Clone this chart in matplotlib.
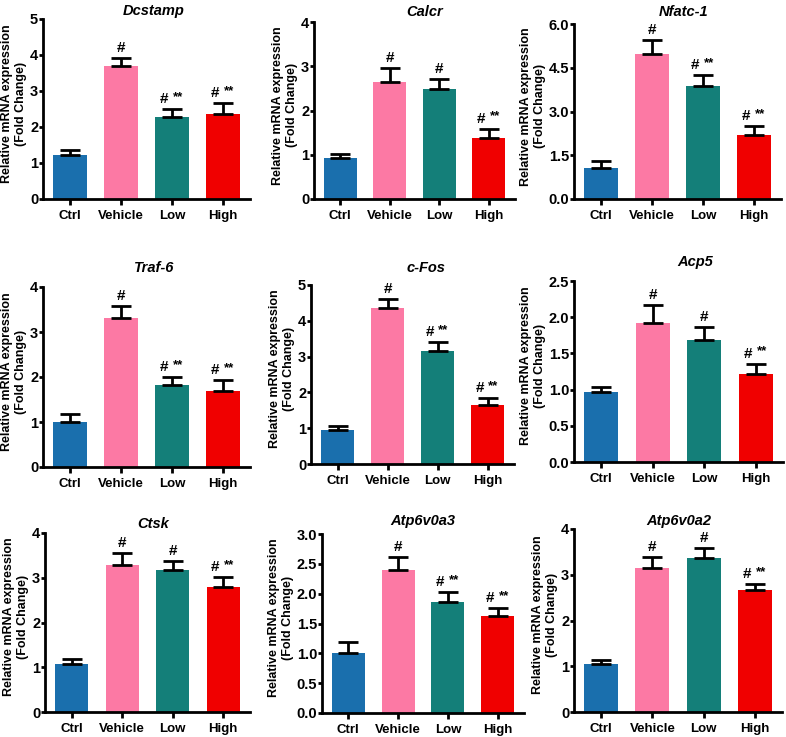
import numpy as np
import matplotlib.pyplot as plt

plt.rcParams['font.family'] = ['Liberation Sans', 'DejaVu Sans']
plt.rcParams['font.weight'] = 'bold'

groups = ["Ctrl", "Vehicle", "Low", "High"]
colors = ["#1a6fad", "#fc79a4", "#147f79", "#f00000"]

genes = ["Dcstamp", "Calcr", "Nfatc-1", "Traf-6", "c-Fos", "Acp5", "Ctsk", "Atp6v0a3", "Atp6v0a2"]

# mean values per gene (Ctrl, Vehicle, Low, High)
dcstamp = [1.22, 3.69, 2.27, 2.35]
calcr = [0.93, 2.64, 2.49, 1.38]
nfatc1 = [1.07, 4.97, 3.89, 2.20]
traf6 = [1.00, 3.31, 1.82, 1.70]
cfos = [0.94, 4.37, 3.16, 1.65]
acp5 = [0.97, 1.92, 1.69, 1.22]
ctsk = [1.07, 3.29, 3.18, 2.80]
atp6v0a3 = [1.00, 2.40, 1.86, 1.62]
atp6v0a2 = [1.05, 3.15, 3.36, 2.67]

# upper error (SEM)
dcstamp_err = [0.14, 0.23, 0.23, 0.31]
calcr_err = [0.09, 0.31, 0.23, 0.21]
nfatc1_err = [0.22, 0.49, 0.36, 0.31]
traf6_err = [0.18, 0.27, 0.18, 0.23]
cfos_err = [0.13, 0.25, 0.24, 0.19]
acp5_err = [0.07, 0.25, 0.17, 0.14]
ctsk_err = [0.12, 0.26, 0.19, 0.21]
atp6v0a3_err = [0.19, 0.22, 0.16, 0.14]
atp6v0a2_err = [0.09, 0.23, 0.23, 0.13]

# significance marks
dcstamp_sig = ["", "#", "# **", "# **"]
calcr_sig = ["", "#", "#", "# **"]
nfatc1_sig = ["", "#", "# **", "# **"]
traf6_sig = ["", "#", "# **", "# **"]
cfos_sig = ["", "#", "# **", "# **"]
acp5_sig = ["", "#", "#", "# **"]
ctsk_sig = ["", "#", "#", "# **"]
atp6v0a3_sig = ["", "#", "# **", "# **"]
atp6v0a2_sig = ["", "#", "#", "# **"]

means = [dcstamp, calcr, nfatc1, traf6, cfos, acp5, ctsk, atp6v0a3, atp6v0a2]
errs = [dcstamp_err, calcr_err, nfatc1_err, traf6_err, cfos_err, acp5_err, ctsk_err, atp6v0a3_err, atp6v0a2_err]
sigs = [dcstamp_sig, calcr_sig, nfatc1_sig, traf6_sig, cfos_sig, acp5_sig, ctsk_sig, atp6v0a3_sig, atp6v0a2_sig]
ylims = [5, 4, 6, 4, 5, 2.5, 4, 3, 4]
yticks = [
    [0, 1, 2, 3, 4, 5],
    [0, 1, 2, 3, 4],
    [0, 1.5, 3.0, 4.5, 6.0],
    [0, 1, 2, 3, 4],
    [0, 1, 2, 3, 4, 5],
    [0, 0.5, 1.0, 1.5, 2.0, 2.5],
    [0, 1, 2, 3, 4],
    [0, 0.5, 1.0, 1.5, 2.0, 2.5, 3.0],
    [0, 1, 2, 3, 4],
]
yfmt = ["%d", "%d", "%.1f", "%d", "%d", "%.1f", "%d", "%.1f", "%d"]

# axes boxes in pixels: left, right, top, bottom
W, H = 786, 737
boxes = [
    (43, 250, 19, 199), (314, 515, 22, 199), (574, 781, 24, 199),
    (43, 250, 287, 467), (311, 514, 285, 464), (574, 783, 281, 462),
    (45, 250, 533, 712), (322, 524, 534, 713), (574, 782, 529, 712),
]
# title centre x and baseline y, pixels
title_pos = [(154, 15.5), (425, 15.5), (684, 15.5),
             (154, 272.5), (426, 272.5), (695, 265.5),
             (153, 527.5), (423, 525.5), (679, 525.5)]

fig = plt.figure(figsize=(W / 100, H / 100), dpi=100)
x = np.arange(len(groups))

for i in range(9):
    l, r, t, b = boxes[i]
    ax = fig.add_axes([l / W, 1 - b / H, (r - l) / W, (b - t) / H])
    ax.bar(x, means[i], width=0.66, color=colors, zorder=2)
    ax.errorbar(x, means[i], yerr=[np.zeros(4), errs[i]], fmt='none',
                ecolor='black', elinewidth=2, capsize=7, capthick=2, zorder=3)
    ax.set_xlim(-0.53, 3.53)
    ax.set_ylim(0, ylims[i])
    ax.set_yticks(yticks[i])
    ax.set_yticklabels([yfmt[i] % v for v in yticks[i]])
    ax.set_xticks(x)
    ax.set_xticklabels(groups)
    for s in ['top', 'right']:
        ax.spines[s].set_visible(False)
    for s in ['left', 'bottom']:
        ax.spines[s].set_linewidth(2)
    ax.tick_params(axis='both', width=2, length=4)
    ax.tick_params(axis='y', labelsize=10.5, pad=0.5, length=3)
    ax.tick_params(axis='x', labelsize=9.5, pad=4)
    tx, ty = title_pos[i]
    fig.text(tx / W, 1 - ty / H, genes[i], ha='center', va='baseline',
             fontsize=10.5, fontweight='bold', fontstyle='italic')
    ax.set_ylabel("Relative mRNA expression\n(Fold Change)", fontsize=9, fontweight='bold', labelpad=2)
    ax.yaxis.label.set_y(0.53)
    for j in range(4):
        top = means[i][j] + errs[i][j]
        if sigs[i][j] == "#":
            ax.annotate("#", (x[j], top), xytext=(0, 3), textcoords='offset pixels',
                        ha='center', va='bottom', fontsize=11, fontweight='bold')
        elif sigs[i][j] == "# **":
            ax.annotate("#", (x[j], top), xytext=(-8, 3), textcoords='offset pixels',
                        ha='center', va='bottom', fontsize=11, fontweight='bold')
            ax.annotate("**", (x[j], top), xytext=(6, 6), textcoords='offset pixels',
                        ha='center', va='bottom', fontsize=9.5, fontweight='bold')

fig.savefig("out.png", dpi=100)
